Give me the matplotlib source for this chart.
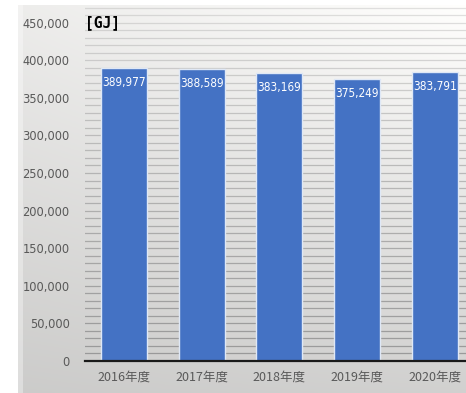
import numpy as np
import matplotlib
matplotlib.use("Agg")
import matplotlib.pyplot as plt
from matplotlib.ticker import MultipleLocator, FuncFormatter
from matplotlib import font_manager as fm

# Annual energy consumption
years = ["2016年度", "2017年度", "2018年度", "2019年度", "2020年度"]
energy_gj = [389977, 388589, 383169, 375249, 383791]
unit_label = "[GJ]"

W, H = 466, 393
fig = plt.figure(figsize=(W / 100, H / 100), dpi=100)
fig.patch.set_facecolor("white")

narrow = fm.FontProperties(family="DejaVu Sans", stretch="condensed", size=8.5)

# Shaded panel behind the chart
px0, py0 = 18 / W, 5 / H
bg = fig.add_axes([px0, 0, 1 - px0, 1 - py0], zorder=0)
gy, gx = np.mgrid[0:1:200j, 0:1:200j]
shade = 0.80 + 0.13 * gy + 0.05 * gx * gy + 0.02 * gx
shade = np.clip(shade, 0, 1)
rgb = np.dstack([shade, shade * 0.998, shade * 0.992])
bg.imshow(rgb, origin="lower", aspect="auto", extent=[0, 1, 0, 1])
bg.axvspan(0, 0.012, color="white", alpha=0.35, lw=0)
bg.set_axis_off()

# Main plot area
x_left = 85 / W
y_bottom = 1 - 361 / H
ax = fig.add_axes([x_left, y_bottom, 1 - x_left, (361 - 5) / H], zorder=1)
ax.patch.set_alpha(0)

x = np.arange(len(years))
bars = ax.bar(x, energy_gj, width=0.59, color="#4472C4",
              edgecolor="#dfe8f6", linewidth=1.0, zorder=3)

ax.set_xlim(-0.5, (W - 85) / 77.75 - 0.5)
ax.set_ylim(0, 473400)

ax.yaxis.set_major_locator(MultipleLocator(50000))
ax.yaxis.set_minor_locator(MultipleLocator(10000))
ax.yaxis.set_major_formatter(FuncFormatter(lambda v, p: f"{int(v):,}"))

# Gridlines fade towards the top of the panel
ymax = ax.get_ylim()[1]
for level in ax.yaxis.get_minor_locator().tick_values(0, ymax):
    if 0 < level <= ymax:
        a = 0.85 - 0.6 * (level / ymax)
        ax.axhline(level, color="#8f8f8f", linewidth=0.9, alpha=a, zorder=1)

for side in ("top", "right", "left"):
    ax.spines[side].set_visible(False)
ax.spines["bottom"].set_color("#1a1a1a")
ax.spines["bottom"].set_linewidth(1.6)
ax.spines["bottom"].set_zorder(4)

ax.tick_params(axis="y", which="both", length=0, pad=11, labelcolor="#595959")
ax.tick_params(axis="x", length=0, pad=7)
for lbl in ax.get_yticklabels():
    lbl.set_fontproperties(narrow)
    lbl.set_fontsize(9.2)

ax.set_xticks(x)
ax.set_xticklabels(years, fontsize=9, color="#595959",
                   family=["Noto Sans CJK JP", "DejaVu Sans"])

# Value labels inside the top of each bar
for xi, v in zip(x, energy_gj):
    ax.annotate(f"{v:,}", xy=(xi, v), xytext=(0, -10.5),
                textcoords="offset points", ha="center", va="center",
                color="white", fontproperties=narrow, zorder=5)

# Unit label
ax.text(-0.5, 450000, unit_label, ha="left", va="center", fontsize=10.5,
        fontweight="bold", color="black", family="DejaVu Sans Mono")

fig.savefig("out.png", dpi=100)
